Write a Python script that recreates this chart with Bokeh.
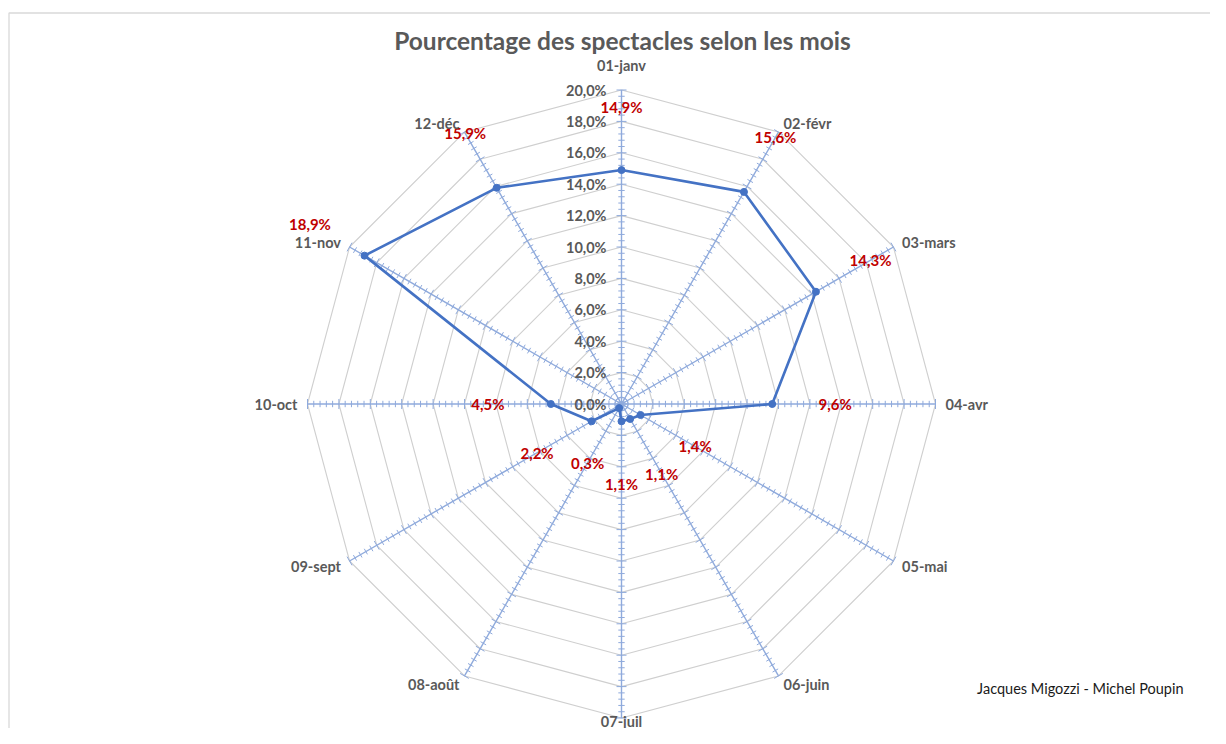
import numpy as np
from bokeh.plotting import figure
from bokeh.models import Range1d, Label
from bokeh.core.properties import value
from bokeh.embed import file_html
from bokeh.resources import INLINE

# ---- data ----
months = ["01-janv", "02-févr", "03-mars", "04-avr", "05-mai", "06-juin",
          "07-juil", "08-août", "09-sept", "10-oct", "11-nov", "12-déc"]
pct = [14.9, 15.6, 14.3, 9.6, 1.4, 1.1, 1.1, 0.3, 2.2, 4.5, 18.9, 15.9]
ring_ticks = [0, 2, 4, 6, 8, 10, 12, 14, 16, 18, 20]
ring_labels = ["0,0%", "2,0%", "4,0%", "6,0%", "8,0%", "10,0%", "12,0%",
               "14,0%", "16,0%", "18,0%", "20,0%"]
title_text = "Pourcentage des spectacles selon les mois"
credit_text = "Jacques Migozzi - Michel Poupin"

# ---- layout ----
W, H = 1210, 728
CX, CY = 621, 403.5          # centre in figure pixels
S = 15.7                     # pixels per percent
RMAX = ring_ticks[-1]
FONT = "Lato"
GRAY = "#595959"

p = figure(width=W, height=H, output_backend="svg", toolbar_location=None,
           x_axis_type=None, y_axis_type=None, min_border=0,
           x_range=Range1d(-CX / S, (W - CX) / S),
           y_range=Range1d(-(H - CY) / S, CY / S))
p.grid.visible = False
p.outline_line_color = None
p.background_fill_color = "white"
p.border_fill_color = "white"

n = len(months)
theta = np.arange(n) * 2 * np.pi / n
sx, cy = np.sin(theta), np.cos(theta)

px2x = lambda px: (px - CX) / S
px2y = lambda py: (CY - py) / S

# chart border (top and left visible)
p.line([px2x(8.5), px2x(8.5), px2x(W + 20)], [px2y(H + 20), px2y(12.5), px2y(12.5)],
       line_color="#D9D9D9", line_width=1.3)

# rings
for r in ring_ticks[1:]:
    xs = list(r * sx) + [r * sx[0]]
    ys = list(r * cy) + [r * cy[0]]
    p.line(xs, ys, line_color="#CFCFCF", line_width=1.1)

# spokes with tick marks
spoke_col = "#8FAADC"
p.segment(x0=np.zeros(n), y0=np.zeros(n), x1=RMAX * sx, y1=RMAX * cy,
          line_color=spoke_col, line_width=1.4)
tx0, ty0, tx1, ty1 = [], [], [], []
for i in range(n):
    perp = np.array([cy[i], -sx[i]])
    for k in range(0, 51):
        t = k * 0.4
        half = (5 if k % 5 == 0 else 3.2) / S
        bx, by = t * sx[i], t * cy[i]
        tx0.append(bx - perp[0] * half); ty0.append(by - perp[1] * half)
        tx1.append(bx + perp[0] * half); ty1.append(by + perp[1] * half)
p.segment(tx0, ty0, tx1, ty1, line_color=spoke_col, line_width=1)

# series
vx = np.array(pct) * sx
vy = np.array(pct) * cy
p.line(list(vx) + [vx[0]], list(vy) + [vy[0]], line_color="#4472C4", line_width=2.6)
p.scatter(vx, vy, size=7, fill_color="#4472C4", line_color="#4472C4")

# radial axis labels
p.text(x=[-15 / S] * len(ring_ticks), y=ring_ticks, text=ring_labels,
       text_font=value(FONT), text_font_style="bold", text_font_size="14.5px",
       text_color=GRAY, text_align="right", text_baseline="middle")

# data labels
lab_r = np.array(pct) + 63 / S
p.text(x=lab_r * sx, y=lab_r * cy,
       text=[f"{v:.1f}%".replace(".", ",") for v in pct],
       text_font=value(FONT), text_font_style="bold", text_font_size="15px",
       text_color="#C00000", text_align="center", text_baseline="middle")

# category labels
for i, m in enumerate(months):
    s, c = sx[i], cy[i]
    if abs(s) < 0.1:
        align = "center"
        if c > 0:
            base = "bottom"
            ly = (RMAX + 16 / S) * c
        else:
            base = "top"
            top_px = min(CY + RMAX * S + 13, H - 16)
            ly = px2y(top_px)
        lx = 0.0
    else:
        g = 10 / S
        align = "left" if s > 0 else "right"
        base = "middle"
        lx, ly = (RMAX + g) * s, (RMAX + g) * c
    p.text(x=[lx], y=[ly], text=[m],
           text_font=value(FONT), text_font_style="bold", text_font_size="14.5px",
           text_color=GRAY, text_align=align, text_baseline=base)

# title and credit
p.add_layout(Label(x=622, y=H - 40, x_units="screen", y_units="screen",
                   text=title_text, text_font=FONT, text_font_style="bold",
                   text_font_size="24.5px", text_color=GRAY,
                   text_align="center", text_baseline="middle"))
p.add_layout(Label(x=1183, y=H - 688, x_units="screen", y_units="screen",
                   text=credit_text, text_font=FONT, text_font_size="14.5px",
                   text_color="#1a1a1a", text_align="right", text_baseline="middle"))

open("out.html", "w").write(file_html(p, INLINE))
